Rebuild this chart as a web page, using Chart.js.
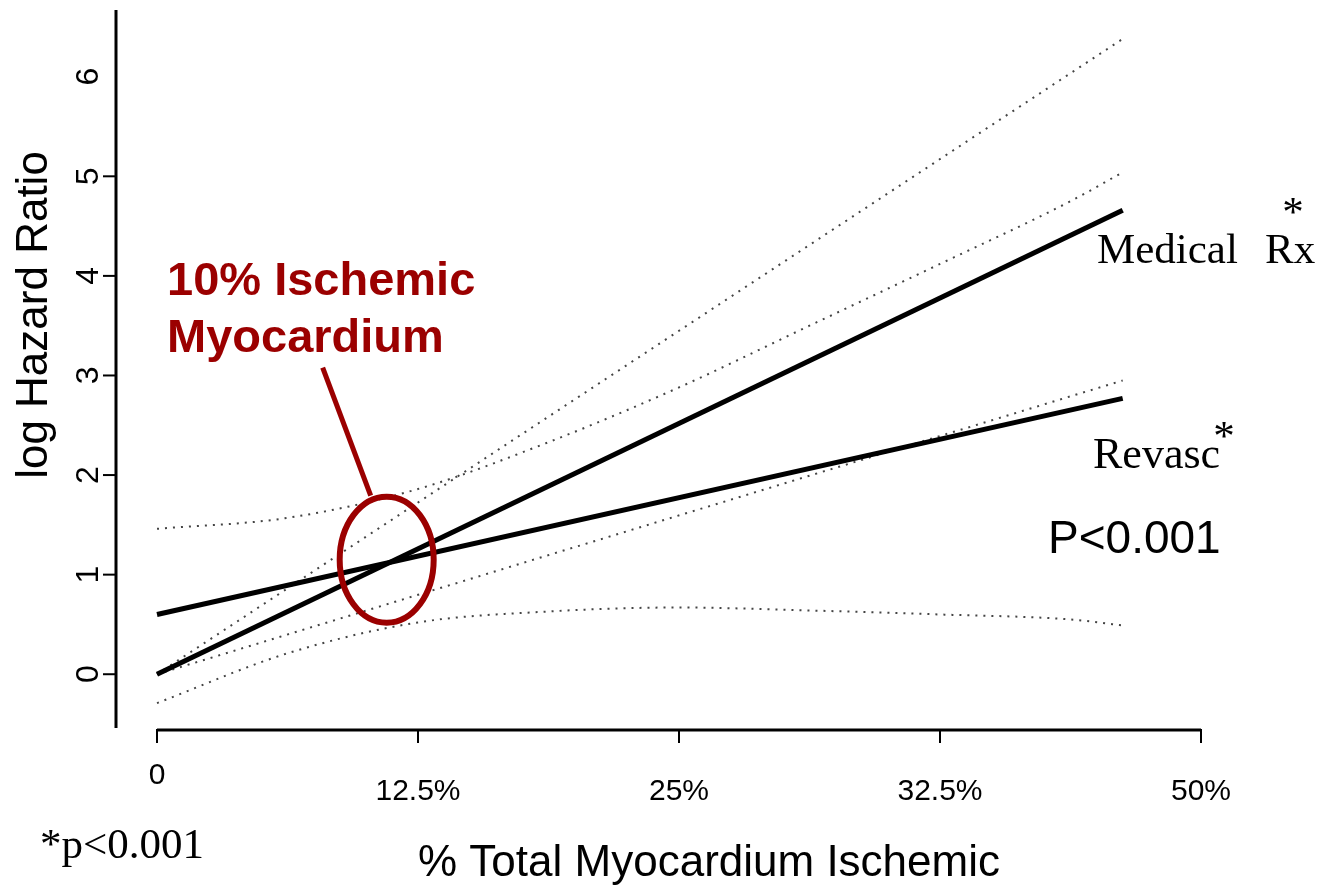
<!DOCTYPE html>
<html>
<head>
<meta charset="utf-8">
<script src="https://cdn.jsdelivr.net/npm/chart.js@4.4.1/dist/chart.umd.min.js"></script>
<style>
  html, body { margin: 0; padding: 0; background: #fff; }
  #wrap { width: 1320px; height: 887px; position: relative; }
</style>
</head>
<body>
<div id="wrap"><canvas id="c"></canvas></div>
<script>
// ischemia axis: tick positions (index units) and their labels
const tickPos = [0, 1, 2, 3, 4];
const tickLabels = ['0', '12.5%', '25%', '32.5%', '50%'];
const yTickValues = [0, 1, 2, 3, 4, 5, 6];

// fitted log hazard ratio by treatment
const lineX = [0, 3.7];
const medicalRx = [0, 4.66];
const revasc = [0.60, 2.77];

// 95% confidence limits
const medicalUpper = [0, 6.38];
const medicalLower = [0, 2.95];
const bandX = [0, 0.5, 1, 1.5, 2, 2.5, 3, 3.5, 3.7];
const revascUpper = [1.46, 1.57, 1.86, 2.33, 2.88, 3.50, 4.12, 4.75, 5.04];
const revascLower = [-0.29, 0.21, 0.52, 0.63, 0.67, 0.64, 0.60, 0.55, 0.49];

// crossing of the two treatment lines (~10% ischemic myocardium)
const crossX = [0.88];
const crossY = [1.15];

const SANS = '"Liberation Sans", Arial, sans-serif';
const SERIF = '"Liberation Serif", "Times New Roman", serif';
const RED = '#9b0000';

function pts(xs, ys) { return xs.map((x, i) => ({ x: x, y: ys[i] })); }

function solid(label, data) {
  return { label, data, showLine: true, borderColor: '#000', borderWidth: 5,
           pointRadius: 0, clip: false, borderCapStyle: 'butt' };
}
function dotted(label, data, curved) {
  return { label, data, showLine: true, borderColor: 'rgba(35,35,35,0.85)', borderWidth: 2,
           borderDash: [2, 6], pointRadius: 0, clip: false,
           cubicInterpolationMode: curved ? 'monotone' : 'default' };
}

function text(ctx, str, x, y, font, align, rot) {
  ctx.save();
  ctx.translate(x, y);
  if (rot) ctx.rotate(rot);
  ctx.font = font;
  ctx.textAlign = align || 'left';
  ctx.textBaseline = 'alphabetic';
  ctx.fillText(str, 0, 0);
  ctx.restore();
}

// draws the offset axes, labels and the red call-out
const axesAndNotes = {
  id: 'axesAndNotes',
  afterDatasetsDraw(chart) {
    const { ctx, chartArea: a, scales: { x, y } } = chart;
    ctx.save();
    ctx.strokeStyle = '#000';
    ctx.fillStyle = '#000';

    // y axis, set off to the left of the plotting region
    const yAxisX = a.left - 41;
    ctx.lineWidth = 3;
    ctx.beginPath(); ctx.moveTo(yAxisX, a.top); ctx.lineTo(yAxisX, a.bottom); ctx.stroke();
    ctx.lineWidth = 2;
    yTickValues.forEach(v => {
      const py = y.getPixelForValue(v);
      if (v < 6) {
        ctx.beginPath(); ctx.moveTo(yAxisX - 13, py); ctx.lineTo(yAxisX, py); ctx.stroke();
      }
      text(ctx, String(v), yAxisX - 18, py, '32px ' + SANS, 'center', -Math.PI / 2);
    });
    text(ctx, 'log Hazard Ratio', 47, 315, '44px ' + SANS, 'center', -Math.PI / 2);

    // x axis, set just below the plotting region
    const xAxisY = a.bottom + 2;
    ctx.lineWidth = 3;
    ctx.beginPath();
    ctx.moveTo(x.getPixelForValue(tickPos[0]), xAxisY);
    ctx.lineTo(x.getPixelForValue(tickPos[tickPos.length - 1]), xAxisY);
    ctx.stroke();
    ctx.lineWidth = 2;
    tickPos.forEach((t, i) => {
      const px = x.getPixelForValue(t);
      ctx.beginPath(); ctx.moveTo(px, xAxisY - 1); ctx.lineTo(px, xAxisY + 13); ctx.stroke();
      const base = i === 0 ? xAxisY + 54 : xAxisY + 70;
      text(ctx, tickLabels[i], px, base, '30px ' + SANS, 'center');
    });
    text(ctx, '% Total Myocardium Ischemic', 709, 876, '44px ' + SANS, 'center');

    // series labels and footnotes
    text(ctx, 'Medical', 1097, 263, '43px ' + SERIF, 'left');
    text(ctx, 'Rx', 1265, 263, '43px ' + SERIF, 'left');
    text(ctx, '*', 1293, 226, '43px ' + SERIF, 'center');
    text(ctx, 'Revasc', 1093, 468, '44px ' + SERIF, 'left');
    text(ctx, '*', 1224, 450, '43px ' + SERIF, 'center');
    text(ctx, 'P<0.001', 1048, 553, '46px ' + SANS, 'left');
    text(ctx, '*p<0.001', 40, 858, '43px ' + SERIF, 'left');

    // call-out on the crossing point
    const cx = x.getPixelForValue(crossX[0]);
    const cy = y.getPixelForValue(crossY[0]);
    ctx.fillStyle = RED;
    ctx.strokeStyle = RED;
    text(ctx, '10% Ischemic', 167, 295, 'bold 47px ' + SANS, 'left');
    text(ctx, 'Myocardium', 167, 352, 'bold 47px ' + SANS, 'left');
    ctx.lineWidth = 5;
    ctx.beginPath();
    ctx.moveTo(cx - 64, cy - 192);
    ctx.lineTo(cx - 16, cy - 64);
    ctx.stroke();
    ctx.lineWidth = 6;
    ctx.beginPath();
    ctx.ellipse(cx, cy, 47, 63, 0, 0, Math.PI * 2);
    ctx.stroke();

    ctx.restore();
  }
};

new Chart(document.getElementById('c'), {
  type: 'scatter',
  data: {
    datasets: [
      solid('Medical Rx', pts(lineX, medicalRx)),
      solid('Revasc', pts(lineX, revasc)),
      dotted('Medical Rx upper', pts(lineX, medicalUpper), false),
      dotted('Medical Rx lower', pts(lineX, medicalLower), false),
      dotted('Revasc upper', pts(bandX, revascUpper), true),
      dotted('Revasc lower', pts(bandX, revascLower), true)
    ]
  },
  options: {
    responsive: true,
    maintainAspectRatio: false,
    animation: false,
    devicePixelRatio: 1,
    events: [],
    layout: { padding: { left: 157, right: 119, top: 10, bottom: 159 } },
    scales: {
      x: { type: 'linear', min: 0, max: 4, display: false },
      y: { type: 'linear', min: -0.54, max: 6.67, display: false }
    },
    plugins: { legend: { display: false }, tooltip: { enabled: false } }
  },
  plugins: [axesAndNotes]
});
</script>
</body>
</html>
